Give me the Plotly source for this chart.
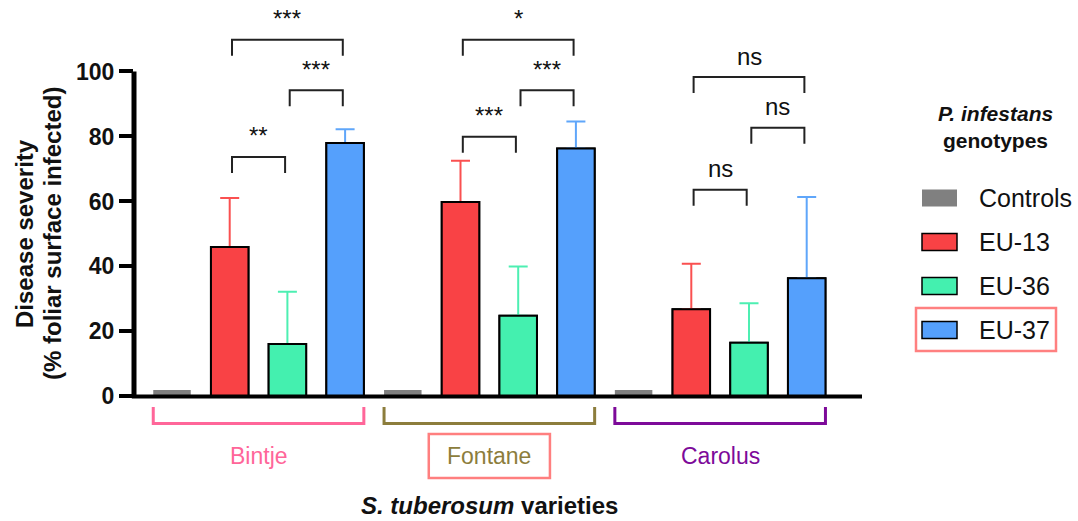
import plotly.graph_objects as go

# ---------------- data ----------------
varieties = ["Bintje", "Fontane", "Carolus"]
genotypes = ["Controls", "EU-13", "EU-36", "EU-37"]

controls_mean = [2.0, 2.0, 2.0]
eu13_mean = [46.0, 59.8, 26.8]
eu13_sd = [15.1, 12.7, 14.0]
eu36_mean = [16.1, 24.8, 16.5]
eu36_sd = [16.1, 15.2, 12.2]
eu37_mean = [78.0, 76.3, 36.4]
eu37_sd = [4.2, 8.3, 25.0]

y_ticks = [0, 20, 40, 60, 80, 100]

# significance comparisons: (variety index, genotype i, genotype j, label, bracket height)
comparisons = [
    (0, 1, 2, "**", 73.7), (0, 2, 3, "***", 94.2), (0, 1, 3, "***", 109.8),
    (1, 1, 2, "***", 79.9), (1, 2, 3, "***", 94.2), (1, 1, 3, "*", 109.8),
    (2, 1, 2, "ns", 63.6), (2, 2, 3, "ns", 82.7), (2, 1, 3, "ns", 98.3),
]

# ---------------- style ----------------
FONT = "Liberation Sans, Arial, Helvetica, sans-serif"
bar_colors = ["#808080", "#F94245", "#44F0AF", "#55A0FC"]
err_colors = ["#808080", "#FA5050", "#4DEFB2", "#5FA6FA"]
variety_colors = ["#FF6699", "#8C7D3C", "#7D0A99"]
W, H = 1078, 521
ML, MR, MT, MB = 134, 216, 0, 122
plot_h = H - MT - MB
BAR_W = 0.65

means = [controls_mean, eu13_mean, eu36_mean, eu37_mean]
sds = [None, eu13_sd, eu36_sd, eu37_sd]

fig = go.Figure()
for k, name in enumerate(genotypes):
    xs = [g * 4 + k for g in range(len(varieties))]
    marker = dict(color=bar_colors[k], line=dict(color="black", width=0 if k == 0 else 2))
    if sds[k] is not None:
        # bar carrying the (upper) error bar
        fig.add_trace(go.Bar(
            x=xs, y=means[k], name=name, width=BAR_W, marker=marker,
            error_y=dict(type="data", array=sds[k], arrayminus=[0] * len(xs),
                         symmetric=False, color=err_colors[k], thickness=2, width=9.5),
            showlegend=False, hoverinfo="skip"))
    # bar drawn on top (hides the lower cap of the error bar)
    fig.add_trace(go.Bar(x=xs, y=means[k], name=name, width=BAR_W, marker=marker,
                         showlegend=False))

shapes = []
annotations = []

# axis lines
shapes.append(dict(type="line", xref="paper", yref="y", x0=0, x1=0, y0=0, y1=100,
                   line=dict(color="black", width=5), layer="above"))
shapes.append(dict(type="line", xref="paper", yref="y", x0=-0.003, x1=1, y0=0, y1=0,
                   line=dict(color="black", width=4), layer="above"))

# significance brackets
px_per_unit = plot_h / (122 + 0.8)
leg = 16 / px_per_unit
for g, i, j, label, top in comparisons:
    x0 = g * 4 + i + 0.04
    x1 = g * 4 + j - 0.04
    shapes.append(dict(type="path", xref="x", yref="y",
                       path=f"M {x0},{top-leg} L {x0},{top} L {x1},{top} L {x1},{top-leg}",
                       line=dict(color="#222222", width=2)))
    annotations.append(dict(x=(x0 + x1) / 2, y=top, xref="x", yref="y", text=label,
                            showarrow=False, yanchor="middle", yshift=21,
                            font=dict(family=FONT, size=24, color="#111111")))

# variety brackets below axis
def py(p):
    return (MT + plot_h - p) / plot_h

for g, v in enumerate(varieties):
    x0 = g * 4 - BAR_W / 2
    x1 = g * 4 + 3 + BAR_W / 2
    yt, yb = py(407), py(423.5)
    shapes.append(dict(type="path", xref="x", yref="paper",
                       path=f"M {x0},{yt} L {x0},{yb} L {x1},{yb} L {x1},{yt}",
                       line=dict(color=variety_colors[g], width=3)))
    annotations.append(dict(x=g * 4 + 1.5, y=py(456), xref="x", yref="paper", text=v,
                            showarrow=False, yanchor="middle",
                            font=dict(family=FONT, size=23, color=variety_colors[g])))

# highlight box around Fontane
shapes.append(dict(type="rect", xref="x", yref="paper", x0=4 + 1.5 - 1.05, x1=4 + 1.5 + 1.05,
                   y0=py(478), y1=py(434), line=dict(color="#FF7F7F", width=2.5)))

# x title
annotations.append(dict(x=4 + 1.5, y=py(521), xref="x", yref="paper",
                        text="<b><i>S. tuberosum</i> varieties</b>", showarrow=False,
                        yanchor="bottom", font=dict(family=FONT, size=24, color="#111111")))

pw = W - ML - MR
def pxx(p):
    return (p - ML) / pw

# y title (two lines)
annotations.append(dict(x=pxx(24), y=py(234), xref="paper", yref="paper",
                        text="<b>Disease severity</b>",
                        showarrow=False, textangle=-90, xanchor="center", yanchor="middle",
                        font=dict(family=FONT, size=24, color="#111111")))
annotations.append(dict(x=pxx(52), y=py(234), xref="paper", yref="paper",
                        text="<b>(% foliar surface infected)</b>",
                        showarrow=False, textangle=-90, xanchor="center", yanchor="middle",
                        font=dict(family=FONT, size=24, color="#111111")))

# manual legend
annotations.append(dict(x=pxx(995), y=py(113), xref="paper", yref="paper",
                        text="<b><i>P. infestans</i></b>", showarrow=False,
                        xanchor="center", yanchor="middle",
                        font=dict(family=FONT, size=21, color="#111111")))
annotations.append(dict(x=pxx(995), y=py(140), xref="paper", yref="paper",
                        text="<b>genotypes</b>", showarrow=False,
                        xanchor="center", yanchor="middle",
                        font=dict(family=FONT, size=21, color="#111111")))
for k, name in enumerate(genotypes):
    cy = 198 + 44 * k
    shapes.append(dict(type="rect", xref="paper", yref="paper",
                       x0=pxx(922), x1=pxx(957), y0=py(cy + 8.5), y1=py(cy - 8.5),
                       fillcolor=bar_colors[k],
                       line=dict(color="black" if k else bar_colors[k], width=1.5 if k else 0)))
    annotations.append(dict(x=pxx(977), y=py(cy), xref="paper", yref="paper", text=name,
                            showarrow=False, xanchor="left", yanchor="middle",
                            font=dict(family=FONT, size=25, color="#111111")))
# highlight box around EU-37 legend entry
shapes.append(dict(type="rect", xref="paper", yref="paper", x0=pxx(916), x1=pxx(1056),
                   y0=py(351), y1=py(308), line=dict(color="#FF8080", width=2.5)))

x_min = -(172 - ML) / 57.7
x_max = x_min + pw / 57.7

fig.update_layout(
    width=W, height=H,
    margin=dict(l=ML, r=MR, t=MT, b=MB, pad=0),
    plot_bgcolor="white", paper_bgcolor="white",
    barmode="overlay",
    shapes=shapes, annotations=annotations,
    showlegend=False,
    xaxis=dict(range=[x_min, x_max], showticklabels=False, showgrid=False, zeroline=False,
               showline=False, ticks="", fixedrange=True),
    yaxis=dict(range=[-0.8, 122], tickvals=y_ticks, showgrid=False, zeroline=False,
               showline=False, ticks="outside", ticklen=14, tickwidth=4, tickcolor="black",
               tickfont=dict(family=FONT, size=23, color="#111111", weight="bold"),
               fixedrange=True),
)

fig.write_html("out.html")
